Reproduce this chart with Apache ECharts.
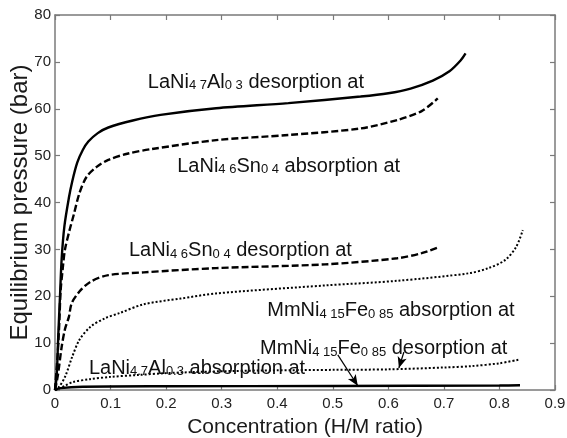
<!DOCTYPE html>
<html><head><meta charset="utf-8">
<script src="https://cdn.jsdelivr.net/npm/echarts@6/dist/echarts.min.js"></script>
<style>html,body{margin:0;padding:0;background:#fff}#c{width:567px;height:438px}</style>
</head><body><div id="c"></div>
<script>
// ---- data (H/M ratio vs equilibrium pressure, bar) ----
const xTickMin = 0, xTickMax = 0.9, xTickStep = 0.1;
const yTickMin = 0, yTickMax = 80, yTickStep = 10;

const desAlX = [0, 0.003, 0.006, 0.009, 0.012, 0.017, 0.025, 0.031, 0.04, 0.05, 0.06, 0.077, 0.096, 0.14, 0.19, 0.29, 0.42, 0.55, 0.6, 0.64, 0.68, 0.71, 0.73, 0.739];
const desAlY = [0, 3, 12, 20, 28, 35, 41, 44.5, 48.5, 51.2, 53, 54.8, 56, 57.5, 58.7, 60.1, 61.2, 62.6, 63.3, 64.3, 66, 68, 70.3, 71.8];

const absSnX = [0, 0.005, 0.008, 0.010, 0.014, 0.018, 0.026, 0.034, 0.044, 0.057, 0.075, 0.096, 0.13, 0.174, 0.29, 0.42, 0.55, 0.616, 0.66, 0.689];
const absSnY = [0, 8, 15, 21, 26, 30, 34, 37.5, 42, 45.5, 47.6, 49.1, 50.4, 51.4, 53.3, 54.4, 55.8, 57.6, 59.5, 62.2];

const desSnX = [0, 0.005, 0.012, 0.018, 0.025, 0.03, 0.044, 0.064, 0.096, 0.16, 0.29, 0.486, 0.616, 0.66, 0.689];
const desSnY = [0, 3, 9.2, 13, 15.6, 18.5, 21, 23.1, 24.5, 25.1, 26, 26.8, 28.1, 29.2, 30.4];

const absFeX = [0, 0.005, 0.018, 0.031, 0.044, 0.064, 0.09, 0.116, 0.16, 0.226, 0.29, 0.486, 0.616, 0.745, 0.78, 0.81, 0.83, 0.842];
const absFeY = [0, 0.3, 2.8, 7.1, 10.7, 13.5, 15.3, 16.4, 18.3, 19.5, 20.6, 22.3, 23.3, 24.9, 26, 27.7, 30.5, 34.1];

const desFeX = [0, 0.009, 0.018, 0.032, 0.063, 0.1, 0.15, 0.2, 0.3, 0.4, 0.5, 0.6, 0.7, 0.75, 0.8, 0.836];
const desFeY = [0, 0.4, 0.9, 1.7, 2.3, 2.8, 3.2, 3.6, 4.0, 4.2, 4.3, 4.4, 4.8, 5.1, 5.7, 6.5];

const absAlX = [0, 0.01, 0.05, 0.2, 0.5, 0.8, 0.837];
const absAlY = [0, 0.4, 0.7, 0.8, 0.85, 0.95, 1.0];

// annotation anchors (data coords: left edge x, vertical centre y)
const notes = [
  {x: 0.167, y: 66.1, t: '{m|LaNi}{s|4 7}{m|Al}{s|0 3}{m| desorption at}'},
  {x: 0.220, y: 48.2, t: '{m|LaNi}{s|4 6}{m|Sn}{s|0 4}{m| absorption at}'},
  {x: 0.133, y: 30.1, t: '{m|LaNi}{s|4 6}{m|Sn}{s|0 4}{m| desorption at}'},
  {x: 0.382, y: 17.3, t: '{m|MmNi}{s|4 15}{m|Fe}{s|0 85}{m| absorption at}'},
  {x: 0.369, y: 9.2,  t: '{m|MmNi}{s|4 15}{m|Fe}{s|0 85}{m| desorption at}'},
  {x: 0.061, y: 5.1,  t: '{m|LaNi}{s|4.7}{m|Al}{s|0.3}{m| absorption at}'}
];
// arrows (data coords)
const arrows = [
  [[0.628, 8.1], [0.619, 4.7]],
  [[0.509, 7.5], [0.545, 0.9]]
];

const zip = (xs, ys) => xs.map((x, i) => [x, ys[i]]);
const FONT = 'Liberation Sans, Arial, Helvetica, sans-serif';
const AX = '#7a7a7a';

const chart = echarts.init(document.getElementById('c'), null, {renderer: 'canvas'});
const axisCommon = {
  axisLine: {show: true, onZero: false, lineStyle: {color: AX, width: 1.5}},
  axisTick: {show: true, inside: true, length: 5, lineStyle: {color: AX, width: 1.2}},
  splitLine: {show: false}
};
const lineS = (name, data, type, width) => ({
  name, type: 'line', data, showSymbol: false, symbol: 'none',
  smooth: 0.3,
  lineStyle: {color: '#000', width, type}
});

const option = {
  animation: false,
  backgroundColor: '#fff',
  grid: {left: 55, right: 12, top: 15, bottom: 48, containLabel: false, outerBoundsMode: 'none'},
  xAxis: [
    Object.assign({type: 'value', min: xTickMin, max: xTickMax, interval: xTickStep, position: 'bottom',
      name: 'Concentration (H/M ratio)', nameLocation: 'middle', nameGap: 27, nameMoveOverlap: false,
      nameTextStyle: {fontFamily: FONT, fontSize: 21, color: '#1a1a1a', verticalAlign: 'top'},
      axisLabel: {fontFamily: FONT, fontSize: 15, color: '#222', margin: 6,
        formatter: v => (Math.round(v * 10) / 10).toString()}}, axisCommon),
    Object.assign({type: 'value', min: xTickMin, max: xTickMax, interval: xTickStep, position: 'top',
      axisLabel: {show: false}}, axisCommon)
  ],
  yAxis: [
    Object.assign({type: 'value', min: yTickMin, max: yTickMax, interval: yTickStep, position: 'left',
      name: 'Equilibrium pressure (bar)', nameLocation: 'middle', nameGap: 23, nameMoveOverlap: false,
      nameTextStyle: {fontFamily: FONT, fontSize: 24, color: '#1a1a1a'},
      axisLabel: {fontFamily: FONT, fontSize: 15, color: '#222', margin: 4}}, axisCommon),
    Object.assign({type: 'value', min: yTickMin, max: yTickMax, interval: yTickStep, position: 'right',
      axisLabel: {show: false}}, axisCommon)
  ],
  series: [
    lineS('LaNi4.7Al0.3 desorption', zip(desAlX, desAlY), 'solid', 2.4),
    lineS('LaNi4.6Sn0.4 absorption', zip(absSnX, absSnY), [7, 3], 2.4),
    lineS('LaNi4.6Sn0.4 desorption', zip(desSnX, desSnY), [7, 3], 2.4),
    lineS('MmNi4.15Fe0.85 absorption', zip(absFeX, absFeY), [2, 2], 2),
    lineS('MmNi4.15Fe0.85 desorption', zip(desFeX, desFeY), [2, 2], 2),
    Object.assign(lineS('LaNi4.7Al0.3 absorption', zip(absAlX, absAlY), 'solid', 2.4), {
      markLine: {
        silent: true, symbol: ['none', 'arrow'], symbolSize: [7, 11],
        label: {show: false},
        lineStyle: {color: '#000', width: 1.2, type: 'solid'},
        data: arrows.map(a => [{coord: a[0]}, {coord: a[1]}])
      }
    })
  ]
};
chart.setOption(option);

const graphics = notes.map(n => {
  const p = chart.convertToPixel({gridIndex: 0}, [n.x, n.y]);
  return {
    type: 'text', x: p[0], y: p[1], z: 10,
    style: {
      text: n.t, align: 'left', verticalAlign: 'middle',
      fontFamily: FONT, fill: '#111',
      rich: {
        m: {fontFamily: FONT, fontSize: 20, color: '#111', verticalAlign: 'bottom', lineHeight: 24},
        s: {fontFamily: FONT, fontSize: 13, color: '#111', verticalAlign: 'bottom', lineHeight: 12}
      }
    }
  };
});
chart.setOption({graphic: graphics});
</script>
</body></html>
